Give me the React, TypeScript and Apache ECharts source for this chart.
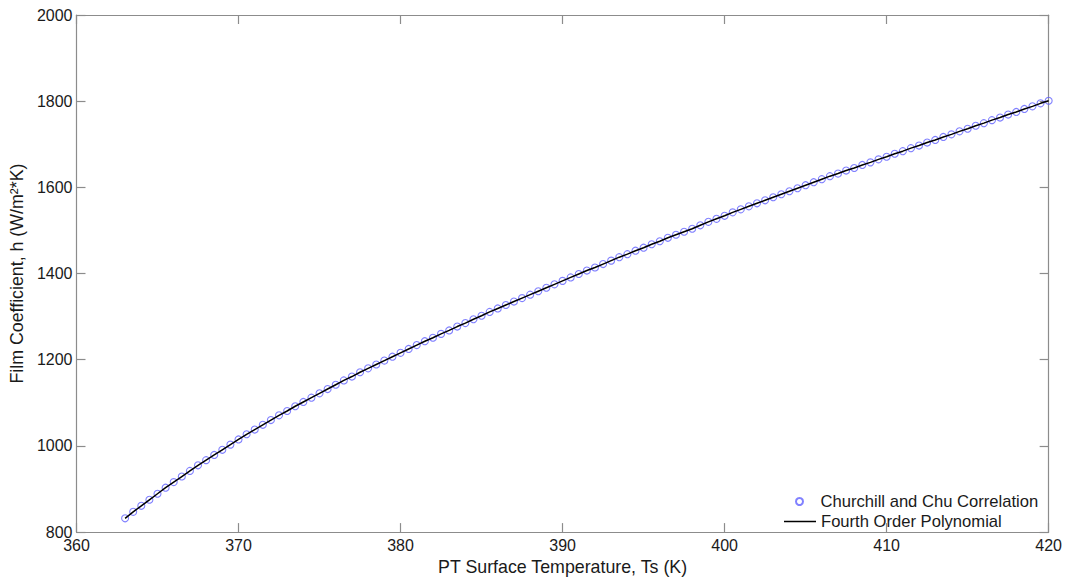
import React, { useEffect, useRef } from "react";
import * as echarts from "echarts";

const temperatures = [
  363, 363.5, 364, 364.5, 365, 365.5, 366, 366.5, 367, 367.5, 368, 368.5, 369, 369.5,
  370, 370.5, 371, 371.5, 372, 372.5, 373, 373.5, 374, 374.5, 375, 375.5, 376, 376.5,
  377, 377.5, 378, 378.5, 379, 379.5, 380, 380.5, 381, 381.5, 382, 382.5, 383, 383.5,
  384, 384.5, 385, 385.5, 386, 386.5, 387, 387.5, 388, 388.5, 389, 389.5, 390, 390.5,
  391, 391.5, 392, 392.5, 393, 393.5, 394, 394.5, 395, 395.5, 396, 396.5, 397, 397.5,
  398, 398.5, 399, 399.5, 400, 400.5, 401, 401.5, 402, 402.5, 403, 403.5, 404, 404.5,
  405, 405.5, 406, 406.5, 407, 407.5, 408, 408.5, 409, 409.5, 410, 410.5, 411, 411.5,
  412, 412.5, 413, 413.5, 414, 414.5, 415, 415.5, 416, 416.5, 417, 417.5, 418, 418.5,
  419, 419.5, 420,
];

const churchillChu = [
  832, 847, 861, 875, 889, 903, 916, 929, 942, 955, 967, 979, 991, 1003,
  1015, 1027, 1038, 1049, 1060, 1071, 1081, 1092, 1102, 1112, 1122, 1132, 1142, 1152,
  1161, 1171, 1180, 1189, 1198, 1207, 1216, 1225, 1234, 1243, 1251, 1260, 1268, 1277,
  1285, 1294, 1302, 1311, 1319, 1327, 1335, 1343, 1351, 1359, 1367, 1375, 1383, 1391,
  1399, 1407, 1414, 1422, 1430, 1438, 1445, 1453, 1460, 1468, 1475, 1483, 1490, 1497,
  1504, 1512, 1520, 1527, 1534, 1542, 1549, 1556, 1563, 1570, 1577, 1584, 1591, 1598,
  1605, 1612, 1619, 1626, 1632, 1639, 1645, 1652, 1658, 1665, 1671, 1678, 1684, 1691,
  1697, 1704, 1710, 1717, 1723, 1730, 1736, 1743, 1749, 1756, 1762, 1769, 1775, 1782,
  1788, 1795, 1801,
];

const polynomial = [
  832, 847, 861, 875, 889, 903, 916, 929, 942, 955, 967, 979, 991, 1003,
  1015, 1027, 1038, 1049, 1060, 1071, 1081, 1092, 1102, 1112, 1122, 1132, 1142, 1152,
  1161, 1171, 1180, 1189, 1198, 1207, 1216, 1225, 1234, 1243, 1251, 1260, 1268, 1277,
  1285, 1294, 1302, 1311, 1319, 1327, 1335, 1343, 1351, 1359, 1367, 1375, 1383, 1391,
  1399, 1407, 1414, 1422, 1430, 1438, 1445, 1453, 1460, 1468, 1475, 1483, 1490, 1497,
  1504, 1512, 1520, 1527, 1534, 1542, 1549, 1556, 1563, 1570, 1577, 1584, 1591, 1598,
  1605, 1612, 1619, 1626, 1632, 1639, 1645, 1652, 1658, 1665, 1671, 1678, 1684, 1691,
  1697, 1704, 1710, 1717, 1723, 1730, 1736, 1743, 1749, 1756, 1762, 1769, 1775, 1782,
  1788, 1795, 1801,
];

const seriesNames = ["Churchill and Chu Correlation", "Fourth Order Polynomial"];
const xAxisName = "PT Surface Temperature, Ts (K)";
const yAxisName = "Film Coefficient, h (W/m²*K)";

const FONT = "Liberation Sans, Arial, sans-serif";
const AXIS_COLOR = "#8c8c8c";
const TEXT_COLOR = "#1a1a1a";

export default function App() {
  const ref = useRef<HTMLDivElement>(null);

  useEffect(() => {
    document.body.style.margin = "0";
    if (!ref.current) return;
    const chart = echarts.init(ref.current, undefined, { renderer: "svg" });

    const axisLine = { show: true, lineStyle: { color: AXIS_COLOR, width: 1.2 } };
    const axisTick = { show: true, inside: true, length: 9, lineStyle: { color: AXIS_COLOR, width: 1.2 } };
    const labelStyle = { color: TEXT_COLOR, fontSize: 16, fontFamily: FONT };
    const nameStyle = { color: TEXT_COLOR, fontSize: 17.8, fontFamily: FONT };

    const scatterData = temperatures.map((t, i) => [t, churchillChu[i]]);
    const lineData = temperatures.map((t, i) => [t, polynomial[i]]);

    chart.setOption({
      animation: false,
      backgroundColor: "#ffffff",
      grid: { left: 73.5, top: 15, right: 16, bottom: 40, containLabel: false },
      xAxis: [
        {
          type: "value",
          position: "bottom",
          min: 360,
          max: 420,
          interval: 10,
          axisLine,
          axisTick,
          axisLabel: { ...labelStyle, margin: 5, formatter: (v: number) => String(v) },
          splitLine: { show: false },
          name: xAxisName,
          nameLocation: "middle",
          nameGap: 21,
          nameTextStyle: { ...nameStyle, verticalAlign: "top" },
        },
        {
          type: "value",
          position: "top",
          min: 360,
          max: 420,
          interval: 10,
          axisLine,
          axisTick,
          axisLabel: { show: false },
          splitLine: { show: false },
        },
      ],
      yAxis: [
        {
          type: "value",
          position: "left",
          min: 800,
          max: 2000,
          interval: 200,
          axisLine,
          axisTick,
          axisLabel: { ...labelStyle, margin: 4, formatter: (v: number) => String(v) },
          splitLine: { show: false },
          name: yAxisName,
          nameLocation: "middle",
          nameGap: 46,
          nameTextStyle: nameStyle,
        },
        {
          type: "value",
          position: "right",
          min: 800,
          max: 2000,
          interval: 200,
          axisLine,
          axisTick,
          axisLabel: { show: false },
          splitLine: { show: false },
        },
      ],
      legend: [
        {
          data: [seriesNames[0]],
          left: 795,
          top: 493,
          padding: 0,
          itemWidth: 32,
          itemHeight: 7,
          icon: "circle",
          textStyle: { color: TEXT_COLOR, fontSize: 16.6, fontFamily: FONT },
        },
        {
          data: [seriesNames[1]],
          left: 784,
          top: 513,
          padding: 0,
          itemWidth: 32,
          itemHeight: 1.5,
          icon: "rect",
          itemStyle: { color: "#000000", borderWidth: 0 },
          textStyle: { color: TEXT_COLOR, fontSize: 16.6, fontFamily: FONT },
        },
      ],
      series: [
        {
          name: seriesNames[0],
          type: "scatter",
          xAxisIndex: 0,
          yAxisIndex: 0,
          data: scatterData,
          symbol: "circle",
          symbolSize: 7,
          itemStyle: { color: "rgba(0,0,0,0)", borderColor: "#6262ff", borderWidth: 1.1 },
          z: 2,
        },
        {
          name: seriesNames[1],
          type: "line",
          xAxisIndex: 0,
          yAxisIndex: 0,
          data: lineData,
          symbol: "none",
          showSymbol: false,
          lineStyle: { color: "#000000", width: 1.5 },
          itemStyle: { color: "#000000" },
          z: 3,
        },
      ],
    });

    return () => {
      chart.dispose();
    };
  }, []);

  return <div ref={ref} style={{ width: 1065, height: 581 }} />;
}
